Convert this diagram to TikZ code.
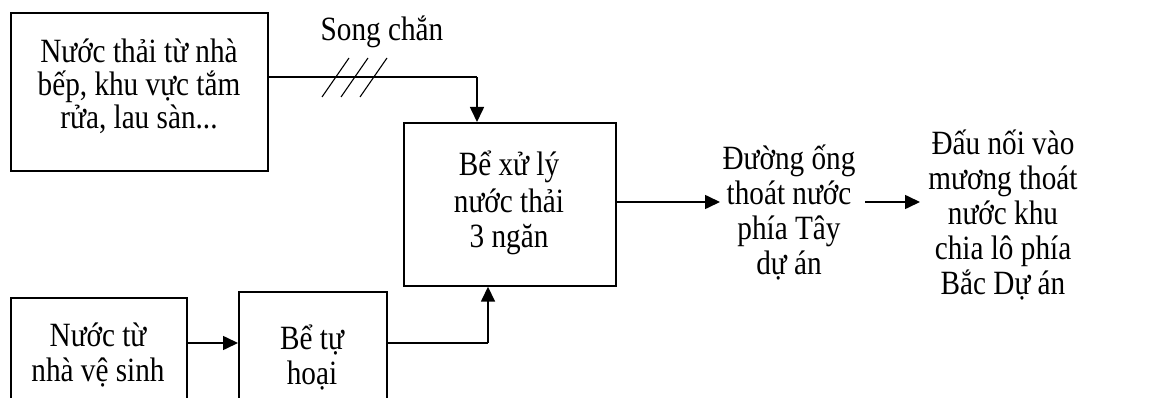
\documentclass[tikz,border=0pt]{standalone}
\usepackage{fontspec}
\setmainfont[FakeStretch=0.86]{Liberation Serif}
\usetikzlibrary{arrows.meta}
\begin{document}
\begin{tikzpicture}[x=1pt,y=-1pt,
  font=\fontsize{34}{35}\selectfont,
  box/.style={draw,line width=1.7pt,inner sep=0pt,align=center,anchor=north west},
  lbl/.style={inner sep=0pt,align=center},
  conn/.style={line width=1.6pt},
  arr/.style={line width=1.6pt,-{Triangle[length=15pt,width=14pt]}},
  thin/.style={line width=1.1pt}]
\useasboundingbox (0,0) rectangle (1164,398);
\clip (0,0) rectangle (1164,398);
\node[box,minimum width=257pt,minimum height=158pt] (kb) at (10,12) {};
\node[lbl] (kbt) at (139,86) {Nước thải từ nhà\\[-2pt]bếp, khu vực tắm\\[-2pt]rửa, lau sàn...};
\node[box,minimum width=212pt,minimum height=163pt] (xl) at (403,122) {};
\node[lbl] (xlt) at (509,203) {Bể xử lý\\[2pt]nước thải\\3 ngăn};
\node[box,minimum width=176pt,minimum height=120pt] (vs) at (10,297) {};
\node[lbl] (vst) at (98,355) {Nước từ\\nhà vệ sinh};
\node[box,minimum width=148pt,minimum height=135pt] (th) at (238,291) {};
\node[lbl] (tht) at (312,357) {Bể tự\\hoại};
\node[lbl] (dt) at (789,213) {Đường ống\\thoát nước\\phía Tây\\dự án};
\node[lbl] (dn) at (1003,215) {Đấu nối vào\\mương thoát\\nước khu\\chia lô phía\\Bắc Dự án};
\node[lbl] (sc) at (382,32) {Song chắn};
\coordinate (c1) at (477,77);
\coordinate (c2) at (488,343);
\coordinate (e1) at (720,202);
\coordinate (s2) at (865,202);
\coordinate (e2) at (920,202);
\draw[thin] (kb.east |- c1) -- (c1);
\draw[arr] (c1) -- (c1 |- xl.north);
\foreach \dx in {0,19,38} \draw[thin] (322+\dx,97) -- (349+\dx,58);
\draw[arr] (vs.east |- c2) -- (th.west |- c2);
\draw[conn] (th.east |- c2) -- (c2);
\draw[arr] (c2) -- (c2 |- xl.south);
\draw[arr] (xl.east |- e1) -- (e1);
\draw[arr] (s2) -- (e2);
\end{tikzpicture}
\end{document}
